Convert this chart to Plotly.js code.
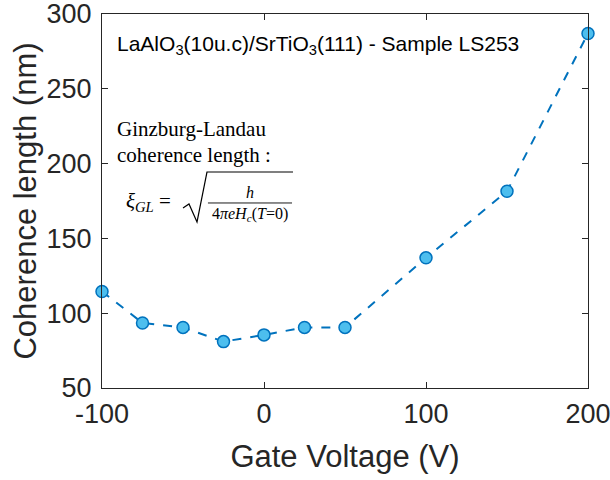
<!DOCTYPE html>
<html><head><meta charset="utf-8">
<script src="https://cdn.plot.ly/plotly-3.0.1.min.js"></script>
<style>body{margin:0;background:#fff}#c{width:610px;height:480px}</style>
</head><body><div id="c"></div>
<script>
const gateVoltage = [-100, -75, -50, -25, 0, 25, 50, 100, 150, 200];
const coherenceLength = [114.5, 93.5, 90.5, 81, 85.5, 90.5, 90.5, 137, 181.5, 287];
const xTicks = [-100, 0, 100, 200];
const yTicks = [50, 100, 150, 200, 250, 300];

const sans = 'Liberation Sans, Arial, sans-serif';
const serif = 'Liberation Serif, Times New Roman, serif';
const ink = '#262626';

const trace = {
  x: gateVoltage, y: coherenceLength, type: 'scatter', mode: 'lines+markers',
  line: {color: '#0072BD', width: 2, dash: 'dash'},
  marker: {size: 12, color: '#4DBEEE', line: {color: '#0072BD', width: 1.5}},
  cliponaxis: false, hoverinfo: 'skip'
};

const axisCommon = {
  showline: true, mirror: 'ticks', linecolor: '#262626', linewidth: 1,
  ticks: 'inside', ticklen: 6, tickcolor: '#262626',
  showgrid: false, zeroline: false, automargin: false,
  ticklabeloverflow: 'allow',
  tickfont: {family: sans, size: 27, color: ink}
};

const layout = {
  width: 610, height: 480,
  margin: {l: 102, r: 22, t: 14, b: 92},
  paper_bgcolor: '#fff', plot_bgcolor: '#fff',
  showlegend: false,
  xaxis: Object.assign({}, axisCommon, {
    range: [-100, 200], tickvals: xTicks, ticktext: xTicks.map(String),
    ticklabelstandoff: 2,
    title: {text: 'Gate Voltage (V)', font: {family: sans, size: 31, color: ink}, standoff: 16}
  }),
  yaxis: Object.assign({}, axisCommon, {
    range: [50, 300], tickvals: yTicks, ticktext: yTicks.map(String),
    ticklabelstandoff: 4,
    title: {text: 'Coherence length (nm)', font: {family: sans, size: 31, color: ink}, standoff: 0}
  }),
  annotations: [
    {xref: 'paper', yref: 'paper', x: 0.0267, y: 0.918, xanchor: 'left', yanchor: 'middle',
     text: 'LaAlO<sub>3</sub>(10u.c)/SrTiO<sub>3</sub>(111) - Sample LS253', showarrow: false,
     font: {family: sans, size: 21, color: '#000'}},
    {xref: 'paper', yref: 'paper', x: 0.026, y: 0.692, xanchor: 'left', yanchor: 'middle',
     text: 'Ginzburg-Landau', showarrow: false, font: {family: serif, size: 21, color: '#000'}},
    {xref: 'paper', yref: 'paper', x: 0.026, y: 0.622, xanchor: 'left', yanchor: 'middle',
     text: 'coherence length :', showarrow: false, font: {family: serif, size: 21, color: '#000'}},
    {xref: 'paper', yref: 'paper', x: 0.045, y: 0.497, xanchor: 'left', yanchor: 'middle',
     text: '<i>ξ</i><sub><i>GL</i></sub> =', showarrow: false, font: {family: serif, size: 21, color: '#000'}},
    {xref: 'paper', yref: 'paper', x: 0.3045, y: 0.522, xanchor: 'center', yanchor: 'middle',
     text: '<i>h</i>', showarrow: false, font: {family: serif, size: 16, color: '#000'}},
    {xref: 'paper', yref: 'paper', x: 0.3045, y: 0.463, xanchor: 'center', yanchor: 'middle',
     text: '4<i>πeH</i><sub><i>c</i></sub>(<i>T</i>=0)', showarrow: false, font: {family: serif, size: 16, color: '#000'}}
  ],
  shapes: [
    {type: 'path', xref: 'paper', yref: 'paper',
     path: 'M 0.1667 0.4813 L 0.179 0.492 L 0.1955 0.4439 L 0.216 0.5775 L 0.393 0.5775',
     line: {color: '#000', width: 1.2}},
    {type: 'line', xref: 'paper', yref: 'paper', x0: 0.218, x1: 0.391, y0: 0.4947, y1: 0.4947,
     line: {color: '#000', width: 0.9}}
  ]
};

Plotly.newPlot('c', [trace], layout, {staticPlot: true, displayModeBar: false});
</script></body></html>
